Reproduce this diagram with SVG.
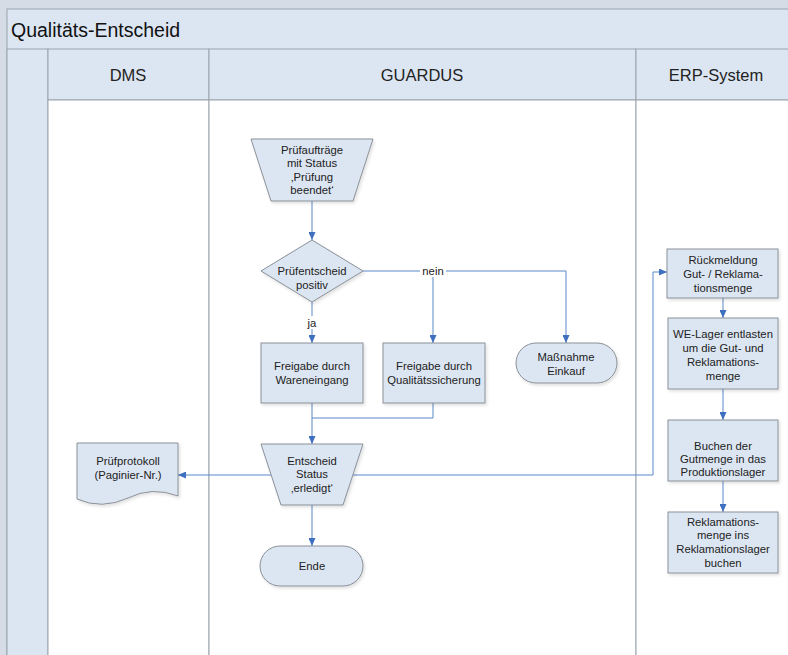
<svg xmlns="http://www.w3.org/2000/svg" width="788" height="655" viewBox="0 0 788 655">
<defs>
<style>
.lane-hd{fill:#dce6f2;stroke:#9aa3ad;stroke-width:1}
.lane{fill:#ffffff;stroke:#9aa3ad;stroke-width:1}
.shape{fill:#dce6f2;stroke:#8a9098;stroke-width:1;filter:url(#sh)}
.t{font-family:"Liberation Sans",Arial,sans-serif;font-size:11.3px;fill:#222;text-anchor:middle}
.h{font-family:"Liberation Sans",Arial,sans-serif;font-size:16.5px;fill:#222;text-anchor:middle}
.c{fill:none;stroke:#5b87c9;stroke-width:1}
</style>
<filter id="sh" x="-10%" y="-10%" width="130%" height="140%">
<feDropShadow dx="1.5" dy="2" stdDeviation="1.5" flood-color="#000" flood-opacity="0.12"/>
</filter>
<marker id="ar" markerWidth="8" markerHeight="7" refX="8" refY="3.5" orient="auto" markerUnits="userSpaceOnUse">
<path d="M0,0 L8,3.5 L0,7 z" fill="#3f6fbf"/>
</marker>
</defs>
<rect x="0" y="0" width="788" height="655" fill="#d5dce6"/>
<g id="pool">
<rect x="7" y="9" width="790" height="660" class="lane-hd"/>
<text x="11" y="37" font-family="'Liberation Sans',Arial,sans-serif" font-size="19.5" fill="#111">Qualitäts-Entscheid</text>
<rect x="7" y="49" width="41" height="620" class="lane-hd"/>
</g>
<g id="lane-dms">
<rect x="48" y="49" width="161" height="51" class="lane-hd"/>
<rect x="48" y="100" width="161" height="570" class="lane"/>
<text x="128" y="81" class="h">DMS</text>
</g>
<g id="lane-guardus">
<rect x="209" y="49" width="427" height="51" class="lane-hd"/>
<rect x="209" y="100" width="427" height="570" class="lane"/>
<text x="422" y="81" class="h">GUARDUS</text>
</g>
<g id="lane-erp">
<rect x="636" y="49" width="160" height="51" class="lane-hd"/>
<rect x="636" y="100" width="160" height="570" class="lane"/>
<text x="716" y="81" class="h">ERP-System</text>
</g>
<g id="connectors">
<path class="c" d="M312,201 V240" marker-end="url(#ar)"/>
<path class="c" d="M312,302 V343" marker-end="url(#ar)"/>
<path class="c" d="M363,271 H566 V343" marker-end="url(#ar)"/>
<path class="c" d="M433,271 V343" marker-end="url(#ar)"/>
<path class="c" d="M312,403 V444" marker-end="url(#ar)"/>
<path class="c" d="M433,403 V418 H312"/>
<path class="c" d="M271,475 H178" marker-end="url(#ar)"/>
<path class="c" d="M353,475 H653 V272 H667" marker-end="url(#ar)"/>
<path class="c" d="M723,298 V318" marker-end="url(#ar)"/>
<path class="c" d="M723,389 V420" marker-end="url(#ar)"/>
<path class="c" d="M723,481 V512" marker-end="url(#ar)"/>
<path class="c" d="M312,505 V546" marker-end="url(#ar)"/>
<rect x="304" y="316" width="15" height="13" fill="#fff"/>
<text x="312" y="327" class="t">ja</text>
<rect x="420" y="265" width="26" height="12" fill="#fff"/>
<text x="433" y="275" class="t">nein</text>
</g>
<g id="n-pruefauftraege">
<path class="shape" d="M251,139 H373 L353,201 H271 Z"/>
<text x="312" y="154" class="t">Prüfaufträge</text>
<text x="312" y="167" class="t">mit Status</text>
<text x="312" y="181" class="t">‚Prüfung</text>
<text x="312" y="194" class="t">beendet‘</text>
</g>
<g id="n-pruefentscheid">
<path class="shape" d="M312,240 L363,271 L312,302 L261,271 Z"/>
<text x="312" y="275" class="t">Prüfentscheid</text>
<text x="312" y="289" class="t">positiv</text>
</g>
<g id="n-freigabe-we">
<rect x="261" y="343" width="102" height="60" class="shape"/>
<text x="312" y="370" class="t">Freigabe durch</text>
<text x="312" y="384" class="t">Wareneingang</text>
</g>
<g id="n-freigabe-qs">
<rect x="383" y="343" width="102" height="60" class="shape"/>
<text x="434" y="370" class="t">Freigabe durch</text>
<text x="434" y="384" class="t">Qualitätssicherung</text>
</g>
<g id="n-massnahme">
<rect x="516" y="343" width="101" height="40" rx="20" ry="20" class="shape"/>
<text x="566" y="361" class="t">Maßnahme</text>
<text x="566" y="375" class="t">Einkauf</text>
</g>
<g id="n-entscheid">
<path class="shape" d="M261,444 H363 L343,505 H281 Z"/>
<text x="312" y="465" class="t">Entscheid</text>
<text x="312" y="478" class="t">Status</text>
<text x="312" y="492" class="t">‚erledigt‘</text>
</g>
<g id="n-ende">
<rect x="260" y="546" width="103" height="40" rx="20" ry="20" class="shape"/>
<text x="312" y="570" class="t">Ende</text>
</g>
<g id="n-pruefprotokoll">
<path class="shape" d="M77,443 H178 V496 Q152,486 128,498 Q102,510 77,499 Z"/>
<text x="128" y="465" class="t">Prüfprotokoll</text>
<text x="128" y="479" class="t">(Paginier-Nr.)</text>
</g>
<g id="n-rueckmeldung">
<rect x="667" y="249" width="111" height="49" class="shape"/>
<text x="723" y="264" class="t">Rückmeldung</text>
<text x="723" y="278" class="t">Gut- / Reklama-</text>
<text x="723" y="292" class="t">tionsmenge</text>
</g>
<g id="n-we-lager">
<rect x="668" y="318" width="110" height="71" class="shape"/>
<text x="723" y="338" class="t">WE-Lager entlasten</text>
<text x="723" y="352" class="t">um die Gut- und</text>
<text x="723" y="366" class="t">Reklamations-</text>
<text x="723" y="380" class="t">menge</text>
</g>
<g id="n-buchen">
<rect x="668" y="420" width="110" height="61" class="shape"/>
<text x="723" y="450" class="t">Buchen der</text>
<text x="723" y="463" class="t">Gutmenge in das</text>
<text x="723" y="476" class="t">Produktionslager</text>
</g>
<g id="n-reklamation">
<rect x="668" y="512" width="110" height="61" class="shape"/>
<text x="723" y="526" class="t">Reklamations-</text>
<text x="723" y="539" class="t">menge ins</text>
<text x="723" y="553" class="t">Reklamationslager</text>
<text x="723" y="567" class="t">buchen</text>
</g>
</svg>
